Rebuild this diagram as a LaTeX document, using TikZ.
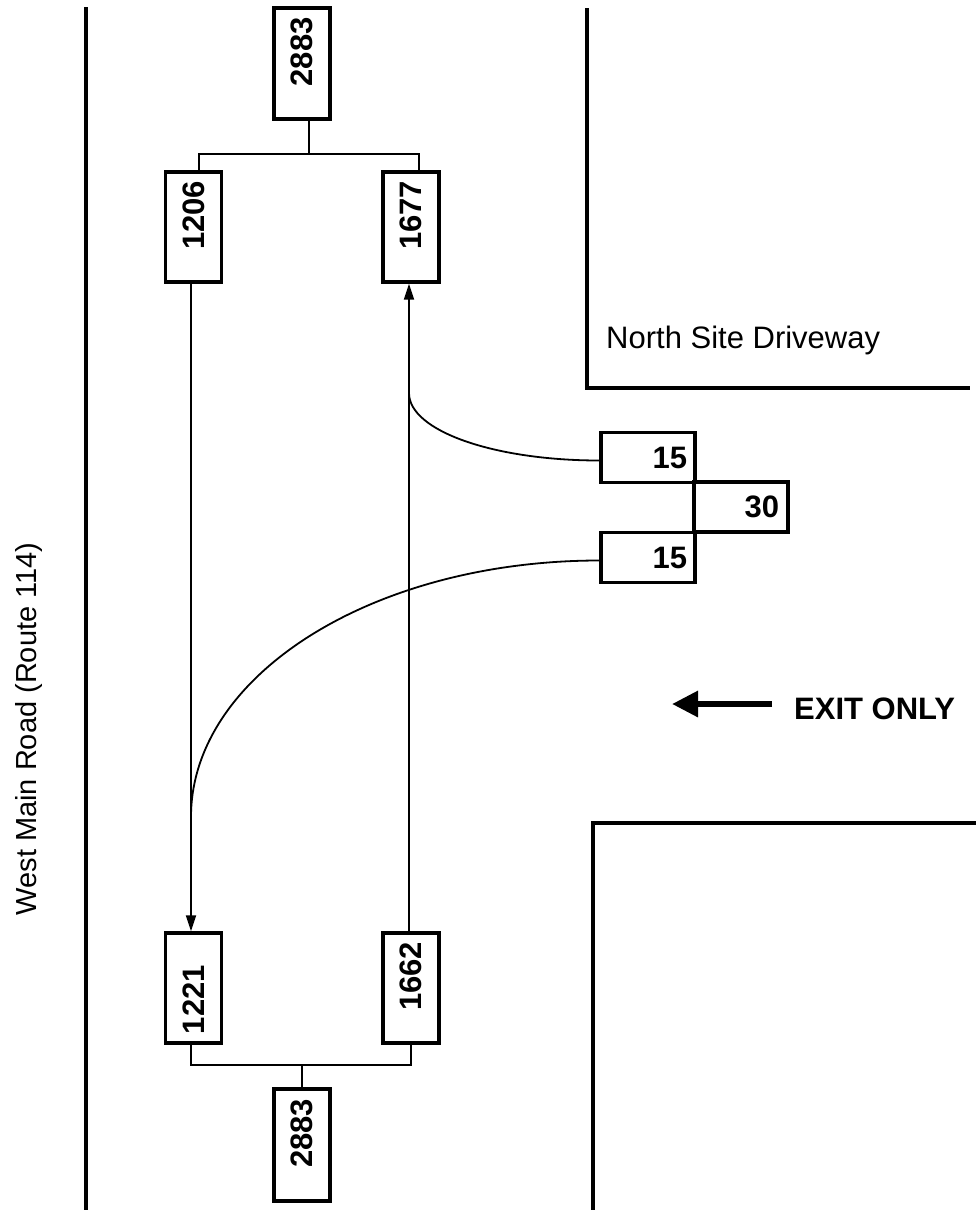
\documentclass[tikz,border=0pt]{standalone}
\usepackage{fontspec}
\setmainfont{Liberation Sans}
\usetikzlibrary{arrows.meta,positioning}
\newcommand{\upnum}[2][r]{\rotatebox{90}{\makebox[92pt][#1]{#2}}}

\begin{document}
\begin{tikzpicture}[
  x=1pt, y=-1pt,
  font=\fontsize{31}{36}\selectfont,
  >={Triangle[length=16pt, width=10pt]},
  cnt/.style={draw, line width=3.4pt, inner sep=0pt, minimum width=56pt, minimum height=110pt,
              font=\fontsize{31}{36}\selectfont\bfseries},
  turn/.style={cnt, minimum width=94pt, minimum height=50pt},
  flow/.style={line width=1.8pt},
  road/.style={line width=4pt},
  bigarrow/.style={-{Triangle[length=26pt, width=25pt]}, line width=6pt},
  lbl/.style={inner sep=0pt}
]
\useasboundingbox (0,0) rectangle (976,1210);

% road edges
\draw[road] (86,7) -- (86,1210);
\draw[road] (587,8) -- (587,388) -- (970,388);
\draw[road] (976,823) -- (593,823) -- (593,1210);

% through volumes
\node[cnt, minimum height=111pt] (t2883) at (302,63.5) {\upnum{2883}};
\node[cnt] (n1206) at (193.5,227) {\upnum{1206}};
\node[cnt] (n1677) at (411,227) {\upnum{1677}};
\node[cnt] (n1221) at (193.5,988) {\upnum[l]{1221}};
\node[cnt] (n1662) at (411,988) {\upnum{1662}};
\node[cnt, minimum height=112pt] (b2883) at (302,1145) {\upnum{2883}};

% driveway volumes
\node[turn] (q15a) at (648,457.5) {\makebox[78pt][r]{15}};
\node[turn] (q30) at (741,507) {\makebox[76pt][r]{30}};
\node[turn] (q15b) at (648,557.5) {\makebox[78pt][r]{15}};

\coordinate (m1) at (409,393);
\coordinate (m2) at (191,817);

% brackets
\draw[flow] ([xshift=7pt]t2883.south) -- ++(0,33) -| ([xshift=5.5pt]n1206.north);
\draw[flow] ([xshift=7pt]t2883.south) -- ++(0,33) -| ([xshift=8pt]n1677.north);
\draw[flow] (b2883.north) -- ++(0,-22) -| ([xshift=-2.5pt]n1221.south);
\draw[flow] (b2883.north) -- ++(0,-22) -| (n1662.south);

% movements
\draw[flow, ->] ([xshift=-2.5pt]n1206.south) -- ([xshift=-2.5pt]n1221.north);
\draw[flow, ->] ([xshift=-2pt]n1662.north) -- ([xshift=-2pt]n1677.south);
\draw[flow] ([yshift=-3pt]q15a.west) .. controls +(-105,0) and +(0,38) .. (m1);
\draw[flow] ([yshift=-3pt]q15b.west) .. controls +(-226,0) and +(0,-142) .. (m2);

% labels
\node[lbl, anchor=base west] (north) at (606,348) {North Site Driveway};
\node[lbl, anchor=base west, font=\fontsize{31}{36}\selectfont\bfseries] (exit) at (794,719) {EXIT ONLY};
\coordinate (exitR) at (772,704);
\coordinate (exitL) at (672,704);
\draw[bigarrow] (exitR) -- (exitL);
\node[lbl, rotate=90, font=\fontsize{29}{34}\selectfont] (main) at (29,729) {West Main Road (Route 114)};

\end{tikzpicture}
\end{document}
